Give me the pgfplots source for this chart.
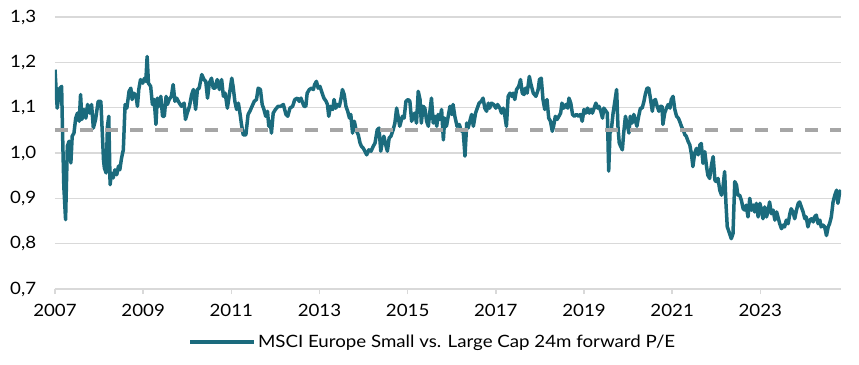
\documentclass[border=0pt]{standalone}
\usepackage{pgfplots}
\pgfplotsset{compat=1.18}
\usepackage{fontspec}
\setmainfont{Lato}[FakeStretch=1.1]
\definecolor{teal1}{RGB}{27,107,125}
\definecolor{gridc}{RGB}{217,217,217}
\definecolor{dashc}{RGB}{166,166,166}
\begin{document}
\fontsize{17pt}{20pt}\selectfont
\begin{tikzpicture}
\begin{axis}[
  at={(0,0)}, anchor=south west,
  scale only axis, width=786pt, height=272pt,
  xmin=2007, xmax=2024.83, ymin=0.7, ymax=1.3,
  xtick={2007,2009,...,2023},
  ytick={0.7,0.8,...,1.31},
  axis line style={draw=none},
  ymajorgrids, grid style={gridc, line width=1.5pt},
  xtick pos=bottom, tick align=outside,
  major tick length=5pt,
  x tick style={gridc, line width=1.5pt},
  ytick style={draw=none},
  /pgf/number format/assume math mode=true,
  x tick label style={/pgf/number format/1000 sep={}, font=\fontsize{17pt}{20pt}\selectfont, yshift=-4pt},
  y tick label style={/pgf/number format/.cd, use comma, fixed, fixed zerofill, precision=1, /tikz/.cd, font=\fontsize{17pt}{20pt}\selectfont, xshift=-8pt},
  legend style={at={(axis description cs:0.169,-0.195)}, anchor=west, draw=none, fill=none, inner sep=0pt, font=\fontsize{17pt}{20pt}\selectfont},
  legend image code/.code={\draw[teal1, line width=4pt] (0pt,0pt) -- (64pt,0pt);},
  clip=true,
]
\addplot[teal1, line width=3.5pt, line join=round] coordinates {
(2007.00,1.184) (2007.05,1.099) (2007.11,1.143) (2007.15,1.147) (2007.17,1.051)
(2007.20,0.926) (2007.24,0.853) (2007.28,1.015) (2007.32,1.026) (2007.36,0.978)
(2007.39,1.037) (2007.43,1.044) (2007.47,1.077) (2007.51,1.088) (2007.55,1.070)
(2007.58,1.129) (2007.61,1.074) (2007.66,1.096) (2007.70,1.077) (2007.74,1.107)
(2007.79,1.088) (2007.83,1.107) (2007.87,1.055) (2007.92,1.074) (2007.98,1.114)
(2008.04,1.114) (2008.07,1.051) (2008.10,0.985) (2008.12,0.967) (2008.16,0.956)
(2008.19,1.059) (2008.22,1.081) (2008.25,0.930) (2008.28,0.956) (2008.32,0.945)
(2008.36,0.963) (2008.40,0.952) (2008.44,0.971) (2008.47,0.963) (2008.51,0.989)
(2008.55,1.007) (2008.59,1.107) (2008.63,1.099) (2008.68,1.136) (2008.72,1.143)
(2008.75,1.118) (2008.79,1.132) (2008.84,1.125) (2008.87,1.103) (2008.90,1.140)
(2008.94,1.162) (2008.99,1.154) (2009.03,1.165) (2009.06,1.158) (2009.09,1.213)
(2009.12,1.154) (2009.17,1.147) (2009.21,1.107) (2009.25,1.118) (2009.29,1.063)
(2009.32,1.121) (2009.36,1.103) (2009.40,1.125) (2009.44,1.081) (2009.48,1.081)
(2009.52,1.125) (2009.55,1.107) (2009.59,1.118) (2009.64,1.125) (2009.68,1.151)
(2009.72,1.114) (2009.76,1.121) (2009.82,1.110) (2009.87,1.103) (2009.93,1.110)
(2009.96,1.074) (2010.00,1.088) (2010.05,1.103) (2010.10,1.129) (2010.14,1.140)
(2010.19,1.096) (2010.23,1.140) (2010.27,1.143) (2010.33,1.173) (2010.38,1.162)
(2010.42,1.158) (2010.46,1.121) (2010.50,1.154) (2010.55,1.165) (2010.59,1.143)
(2010.63,1.143) (2010.68,1.162) (2010.73,1.140) (2010.78,1.162) (2010.82,1.125)
(2010.86,1.132) (2010.91,1.099) (2010.95,1.125) (2011.01,1.165) (2011.04,1.147)
(2011.08,1.114) (2011.12,1.096) (2011.16,1.110) (2011.20,1.085) (2011.23,1.063)
(2011.27,1.040) (2011.33,1.040) (2011.38,1.085) (2011.42,1.092) (2011.47,1.103)
(2011.52,1.114) (2011.57,1.118) (2011.61,1.143) (2011.66,1.140) (2011.70,1.107)
(2011.74,1.096) (2011.78,1.081) (2011.82,1.092) (2011.85,1.059) (2011.88,1.070)
(2011.91,1.044) (2011.95,1.088) (2012.00,1.096) (2012.06,1.103) (2012.12,1.103)
(2012.18,1.107) (2012.24,1.085) (2012.28,1.081) (2012.33,1.099) (2012.39,1.103)
(2012.44,1.118) (2012.50,1.121) (2012.54,1.114) (2012.58,1.121) (2012.62,1.110)
(2012.65,1.103) (2012.69,1.103) (2012.72,1.132) (2012.77,1.140) (2012.82,1.143)
(2012.86,1.140) (2012.89,1.151) (2012.93,1.158) (2012.97,1.143) (2013.01,1.147)
(2013.06,1.132) (2013.10,1.121) (2013.15,1.114) (2013.18,1.107) (2013.21,1.081)
(2013.25,1.103) (2013.30,1.096) (2013.33,1.118) (2013.37,1.099) (2013.41,1.107)
(2013.45,1.103) (2013.49,1.121) (2013.52,1.140) (2013.56,1.129) (2013.60,1.103)
(2013.64,1.092) (2013.68,1.077) (2013.71,1.085) (2013.75,1.044) (2013.79,1.070)
(2013.83,1.051) (2013.88,1.040) (2013.92,1.022) (2013.95,1.015) (2013.99,1.011)
(2014.03,1.004) (2014.07,0.996) (2014.12,1.007) (2014.17,1.004) (2014.22,1.015)
(2014.26,1.022) (2014.31,1.051) (2014.35,1.055) (2014.39,1.004) (2014.42,1.022)
(2014.46,1.037) (2014.51,1.015) (2014.54,1.004) (2014.58,1.033) (2014.62,1.037)
(2014.67,1.051) (2014.71,1.066) (2014.75,1.099) (2014.79,1.077) (2014.82,1.059)
(2014.88,1.081) (2014.92,1.077) (2014.96,1.114) (2015.01,1.118) (2015.05,1.114)
(2015.09,1.070) (2015.13,1.081) (2015.16,1.088) (2015.20,1.066) (2015.24,1.136)
(2015.28,1.118) (2015.31,1.066) (2015.35,1.103) (2015.39,1.099) (2015.43,1.070)
(2015.47,1.059) (2015.50,1.088) (2015.54,1.121) (2015.58,1.066) (2015.62,1.081)
(2015.66,1.059) (2015.69,1.085) (2015.73,1.074) (2015.77,1.096) (2015.81,1.029)
(2015.84,1.077) (2015.88,1.059) (2015.92,1.081) (2015.96,1.103) (2016.00,1.085)
(2016.03,1.107) (2016.07,1.081) (2016.12,1.059) (2016.17,1.063) (2016.22,1.048)
(2016.26,1.048) (2016.30,0.993) (2016.34,1.066) (2016.37,1.055) (2016.41,1.070)
(2016.45,1.085) (2016.49,1.059) (2016.54,1.088) (2016.58,1.099) (2016.62,1.110)
(2016.67,1.114) (2016.71,1.121) (2016.75,1.099) (2016.79,1.092) (2016.83,1.110)
(2016.86,1.099) (2016.90,1.110) (2016.95,1.107) (2017.00,1.099) (2017.04,1.107)
(2017.09,1.099) (2017.13,1.088) (2017.17,1.099) (2017.20,1.085) (2017.24,1.059)
(2017.28,1.125) (2017.32,1.132) (2017.36,1.125) (2017.39,1.132) (2017.43,1.118)
(2017.47,1.140) (2017.52,1.147) (2017.56,1.162) (2017.60,1.132) (2017.64,1.129)
(2017.67,1.143) (2017.71,1.132) (2017.76,1.169) (2017.79,1.154) (2017.85,1.132)
(2017.91,1.125) (2017.96,1.140) (2017.99,1.162) (2018.03,1.165) (2018.07,1.118)
(2018.11,1.096) (2018.16,1.118) (2018.20,1.077) (2018.24,1.070) (2018.28,1.048)
(2018.31,1.059) (2018.35,1.081) (2018.39,1.074) (2018.43,1.081) (2018.47,1.088)
(2018.50,1.110) (2018.54,1.099) (2018.59,1.107) (2018.63,1.099) (2018.66,1.121)
(2018.70,1.110) (2018.74,1.085) (2018.78,1.081) (2018.83,1.085) (2018.88,1.081)
(2018.92,1.085) (2018.96,1.070) (2019.00,1.096) (2019.04,1.088) (2019.08,1.099)
(2019.12,1.088) (2019.16,1.096) (2019.19,1.088) (2019.23,1.099) (2019.27,1.110)
(2019.31,1.099) (2019.34,1.103) (2019.38,1.092) (2019.42,1.077) (2019.45,1.099)
(2019.50,1.092) (2019.53,1.088) (2019.56,0.960) (2019.59,1.044) (2019.62,1.051)
(2019.66,1.088) (2019.70,1.114) (2019.74,1.140) (2019.77,1.059) (2019.80,1.022)
(2019.83,1.015) (2019.87,1.007) (2019.90,1.044) (2019.94,1.081) (2019.98,1.063)
(2020.02,1.044) (2020.05,1.081) (2020.09,1.066) (2020.13,1.085) (2020.17,1.070)
(2020.20,1.059) (2020.24,1.081) (2020.28,1.099) (2020.32,1.099) (2020.36,1.114)
(2020.39,1.129) (2020.43,1.143) (2020.47,1.143) (2020.51,1.118) (2020.55,1.092)
(2020.58,1.114) (2020.62,1.118) (2020.66,1.103) (2020.70,1.092) (2020.73,1.103)
(2020.77,1.103) (2020.79,1.063) (2020.83,1.088) (2020.87,1.099) (2020.91,1.107)
(2020.95,1.099) (2020.98,1.118) (2021.02,1.125) (2021.06,1.096) (2021.10,1.081)
(2021.14,1.077) (2021.17,1.070) (2021.21,1.059) (2021.25,1.051) (2021.29,1.040)
(2021.32,1.037) (2021.36,1.026) (2021.40,1.018) (2021.44,0.996) (2021.47,0.970)
(2021.51,0.999) (2021.55,1.010) (2021.59,0.996) (2021.63,1.018) (2021.66,1.021)
(2021.70,0.977) (2021.74,1.003) (2021.78,0.970) (2021.81,0.951) (2021.85,0.944)
(2021.89,0.973) (2021.93,0.992) (2021.97,0.940) (2022.00,0.937) (2022.04,0.944)
(2022.08,0.918) (2022.12,0.907) (2022.15,0.922) (2022.19,0.959) (2022.22,0.889)
(2022.25,0.837) (2022.29,0.826) (2022.34,0.811) (2022.38,0.822) (2022.42,0.937)
(2022.46,0.929) (2022.49,0.907) (2022.53,0.907) (2022.57,0.896) (2022.61,0.877)
(2022.65,0.874) (2022.68,0.885) (2022.72,0.859) (2022.76,0.900) (2022.80,0.874)
(2022.84,0.885) (2022.87,0.870) (2022.91,0.889) (2022.95,0.859) (2022.99,0.889)
(2023.02,0.877) (2023.06,0.855) (2023.10,0.881) (2023.14,0.859) (2023.18,0.874)
(2023.21,0.892) (2023.25,0.866) (2023.29,0.874) (2023.33,0.852) (2023.37,0.870)
(2023.40,0.859) (2023.44,0.844) (2023.48,0.833) (2023.52,0.841) (2023.55,0.837)
(2023.59,0.852) (2023.63,0.844) (2023.67,0.866) (2023.70,0.877) (2023.74,0.870)
(2023.78,0.855) (2023.82,0.874) (2023.86,0.889) (2023.89,0.892) (2023.93,0.881)
(2023.97,0.870) (2024.01,0.855) (2024.04,0.859) (2024.08,0.837) (2024.12,0.852)
(2024.16,0.855) (2024.20,0.848) (2024.23,0.859) (2024.27,0.863) (2024.31,0.844)
(2024.35,0.852) (2024.38,0.837) (2024.42,0.841) (2024.46,0.837) (2024.50,0.818)
(2024.54,0.837) (2024.57,0.844) (2024.61,0.859) (2024.65,0.892) (2024.69,0.907)
(2024.73,0.918) (2024.76,0.889) (2024.80,0.914) (2024.83,0.918)
};
\addlegendentry{MSCI Europe Small vs. Large Cap 24m forward P/E}
\addplot[dashc, line width=4pt, dash pattern=on 13pt off 12pt, forget plot] coordinates {(2007,1.05) (2024.83,1.05)};
\end{axis}
\path[use as bounding box] (-55pt,-75pt) rectangle (804pt,289pt);
\end{tikzpicture}
\end{document}
